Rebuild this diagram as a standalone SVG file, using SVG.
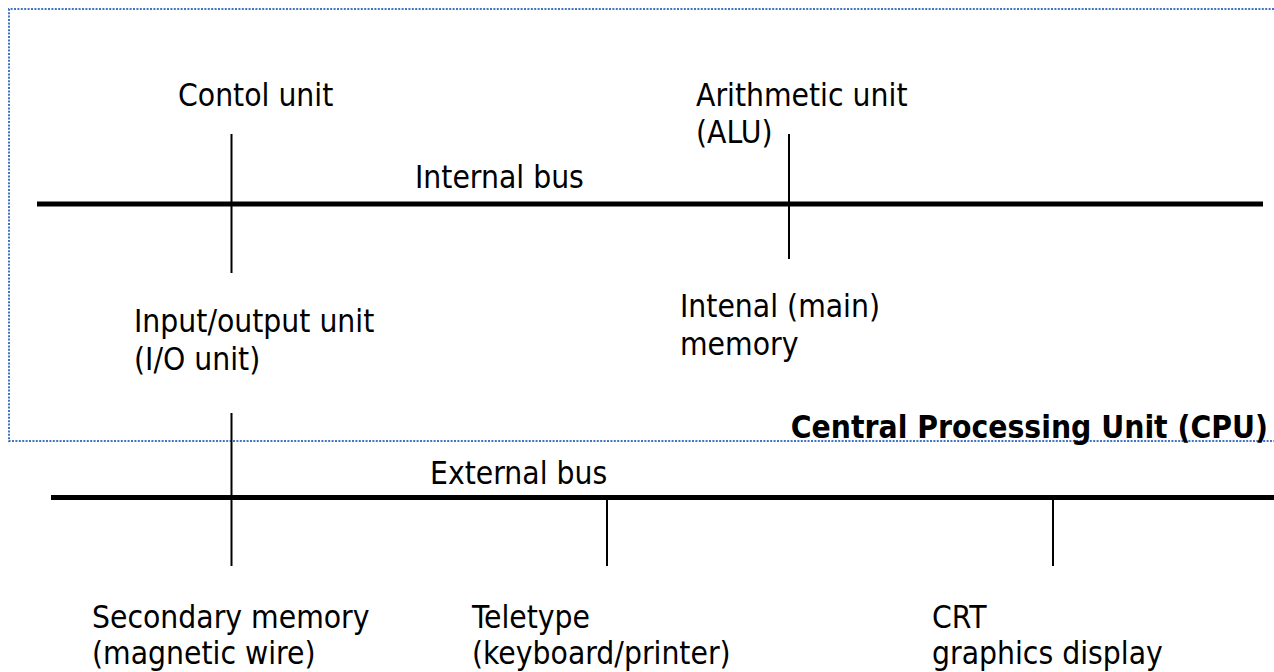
<svg xmlns="http://www.w3.org/2000/svg" width="1274" height="672" viewBox="0 0 1274 672">
<style>
.t{font-family:"DejaVu Sans Condensed","DejaVu Sans",sans-serif;font-size:31.5px;fill:#000}
.b{font-weight:bold}
.bus{stroke:#000;stroke-width:5;fill:none}
.tick{stroke:#000;stroke-width:2;fill:none}
.cpu{fill:none;stroke:#4472c4;stroke-width:2;stroke-dasharray:2 1.4}
</style>
<rect width="1274" height="672" fill="#fff"/>
<g id="cpu-boundary">
<path class="cpu" d="M1274 9 H9 V441 H1274"/>
<text class="t b" x="1268" y="438" text-anchor="end">Central Processing Unit (CPU)</text>
</g>
<g id="connectors">
<line class="bus" x1="37" y1="204" x2="1263" y2="204"/>
<line class="bus" x1="51" y1="497.5" x2="1274" y2="497.5"/>
<line class="tick" x1="231.5" y1="134" x2="231.5" y2="273"/>
<line class="tick" x1="789" y1="134" x2="789" y2="259"/>
<line class="tick" x1="231.5" y1="413" x2="231.5" y2="566"/>
<line class="tick" x1="607" y1="500" x2="607" y2="566"/>
<line class="tick" x1="1053" y1="500" x2="1053" y2="566"/>
</g>
<g id="control-unit"><text class="t" x="178" y="106">Contol unit</text></g>
<g id="alu"><text class="t" x="696" y="106">Arithmetic unit</text><text class="t" x="696" y="143">(ALU)</text></g>
<g id="internal-bus"><text class="t" x="415" y="188">Internal bus</text></g>
<g id="io-unit"><text class="t" x="134" y="332">Input/output unit</text><text class="t" x="134" y="370">(I/O unit)</text></g>
<g id="main-memory"><text class="t" x="680" y="317">Intenal (main)</text><text class="t" x="680" y="355">memory</text></g>
<g id="external-bus"><text class="t" x="430" y="484">External bus</text></g>
<g id="secondary-memory"><text class="t" x="92" y="628">Secondary memory</text><text class="t" x="92" y="664">(magnetic wire)</text></g>
<g id="teletype"><text class="t" x="472" y="628">Teletype</text><text class="t" x="472" y="664">(keyboard/printer)</text></g>
<g id="crt"><text class="t" x="932" y="628">CRT</text><text class="t" x="932" y="664">graphics display</text></g>
</svg>
